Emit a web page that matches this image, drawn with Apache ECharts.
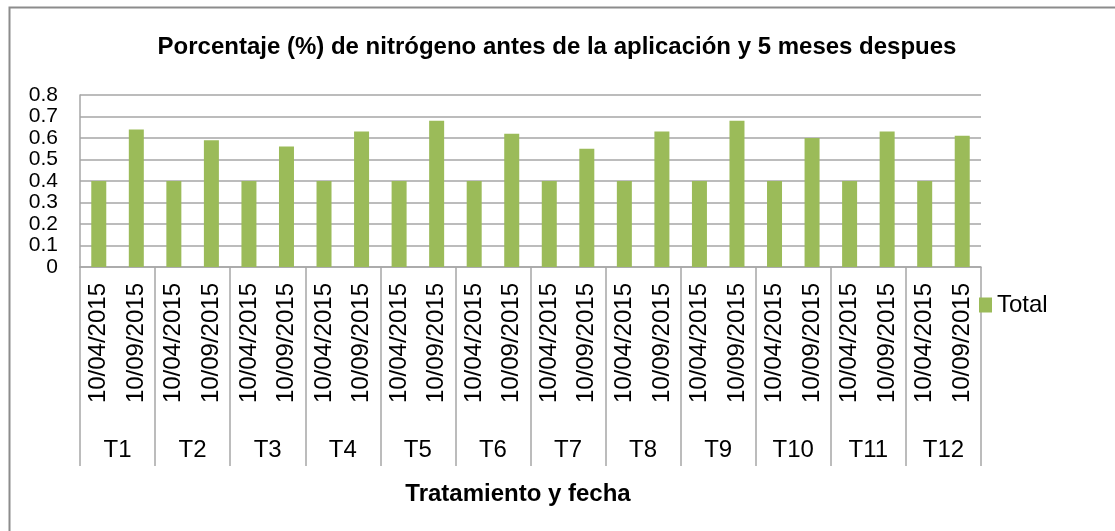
<!DOCTYPE html>
<html>
<head>
<meta charset="utf-8">
<title>Porcentaje de nitrógeno</title>
<script src="https://cdn.jsdelivr.net/npm/echarts@6/dist/echarts.min.js"></script>
<style>
  html, body { margin: 0; padding: 0; background: #fff; }
  #chart { width: 1115px; height: 531px; }
</style>
</head>
<body>
<div id="chart"></div>
<script>
// Datos del gráfico
const tratamientos = ['T1', 'T2', 'T3', 'T4', 'T5', 'T6', 'T7', 'T8', 'T9', 'T10', 'T11', 'T12'];
const fechas = ['10/04/2015', '10/09/2015'];
const antes = [0.40, 0.40, 0.40, 0.40, 0.40, 0.40, 0.40, 0.40, 0.40, 0.40, 0.40, 0.40];
const despues = [0.64, 0.59, 0.56, 0.63, 0.68, 0.62, 0.55, 0.63, 0.68, 0.60, 0.63, 0.61];
const yTicks = ['0', '0.1', '0.2', '0.3', '0.4', '0.5', '0.6', '0.7', '0.8'];

// Categorías de dos niveles: fecha dentro de cada tratamiento
const categorias = [];
const valores = [];
tratamientos.forEach((t, i) => {
    categorias.push(fechas[0], fechas[1]);
    valores.push(antes[i], despues[i]);
});

const FONT = 'Liberation Sans';
const GRIS = '#a6a6a6';

const chart = echarts.init(document.getElementById('chart'));

chart.setOption({
    animation: false,
    textStyle: { fontFamily: FONT },
    title: [
        {
            text: 'Porcentaje (%) de nitrógeno antes de la aplicación y 5 meses despues',
            left: 552, top: 30, textAlign: 'center',
            textStyle: { fontSize: 24, fontWeight: 'bold', color: '#000', fontFamily: FONT }
        },
        {
            text: 'Tratamiento y fecha',
            left: 513, top: 477, textAlign: 'center',
            textStyle: { fontSize: 24, fontWeight: 'bold', color: '#000', fontFamily: FONT }
        }
    ],
    legend: {
        data: ['Total'],
        orient: 'vertical',
        left: 974, top: 288,
        icon: 'rect',
        itemWidth: 13, itemHeight: 15, itemGap: 4,
        textStyle: { fontSize: 24, color: '#000', fontFamily: FONT }
    },
    grid: { left: 80, right: 134, top: 95, bottom: 264 },
    xAxis: [
        {
            type: 'category',
            data: categorias,
            position: 'bottom',
            axisLine: { show: true, lineStyle: { color: GRIS, width: 1.5 } },
            axisTick: { show: false },
            axisLabel: { rotate: 90, interval: 0, margin: 16, fontSize: 24, color: '#000', fontFamily: FONT }
        },
        {
            type: 'category',
            data: tratamientos,
            position: 'bottom',
            axisLine: { show: false },
            axisTick: { show: true, length: 199, lineStyle: { color: GRIS, width: 1.5 } },
            axisLabel: { interval: 0, margin: 171, fontSize: 24, color: '#000', fontFamily: FONT }
        }
    ],
    yAxis: {
        type: 'value',
        min: 0, max: 0.8, interval: 0.1,
        axisLine: { show: true, lineStyle: { color: GRIS, width: 1.5 } },
        axisTick: { show: false },
        splitLine: { lineStyle: { color: GRIS, width: 1.5 } },
        axisLabel: {
            margin: 22, fontSize: 21, color: '#000', fontFamily: FONT,
            showMinLabel: true, showMaxLabel: true, hideOverlap: false,
            formatter: (v) => yTicks[Math.round(v * 10)]
        }
    },
    series: [{
        name: 'Total',
        type: 'bar',
        xAxisIndex: 0,
        data: valores,
        barWidth: 15,
        itemStyle: { color: '#9bbb59' }
    }],
    graphic: [{
        type: 'rect',
        left: 7, top: 5,
        shape: { width: 1130, height: 560 },
        style: { fill: 'none', stroke: '#8c8c8c', lineWidth: 2 },
        silent: true
    }]
});
</script>
</body>
</html>
